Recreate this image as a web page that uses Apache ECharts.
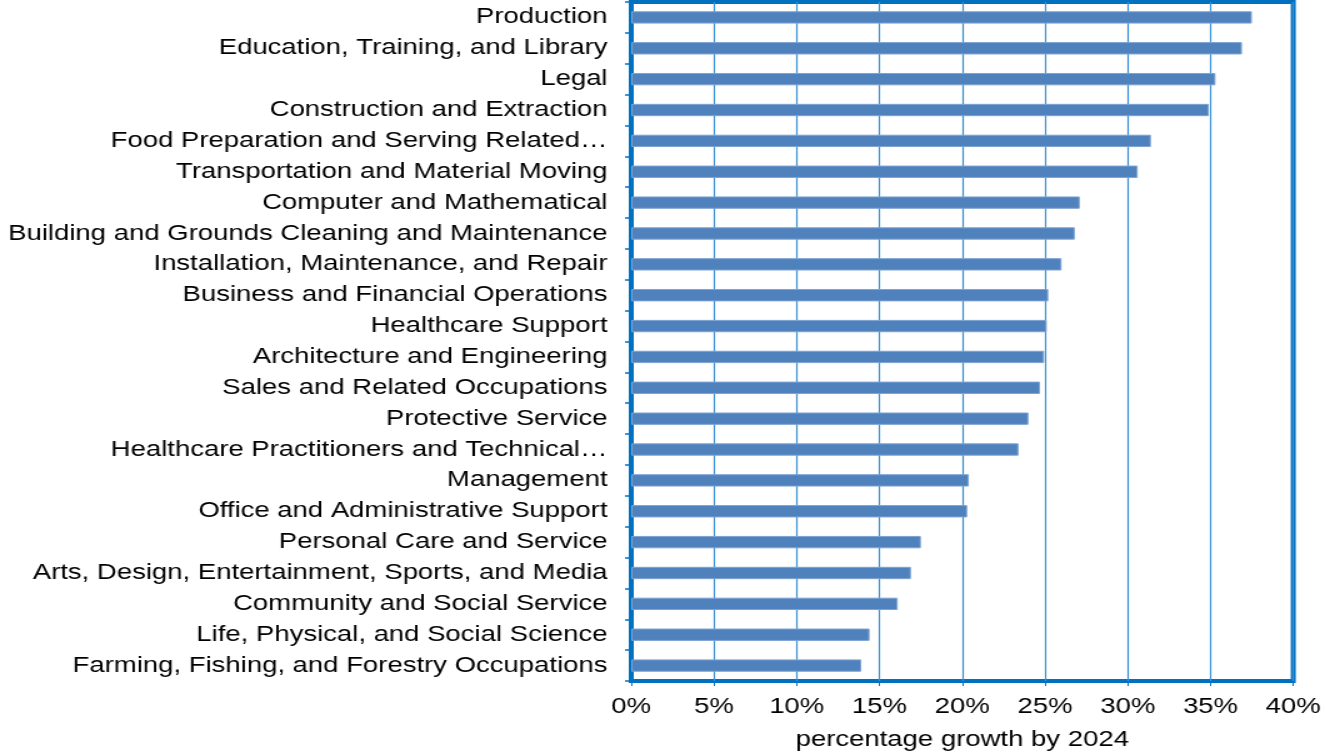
<!DOCTYPE html>
<html>
<head>
<meta charset="utf-8">
<script src="https://cdn.jsdelivr.net/npm/echarts@6/dist/echarts.min.js"></script>
<style>
  html, body { margin: 0; padding: 0; background: #fff; overflow: hidden; width: 1326px; height: 756px; }
  /* the original picture is stretched sideways, so the chart is drawn narrower and widened */
  #chart { width: 1060px; height: 756px; transform: scaleX(1.25); transform-origin: 0 0; }
</style>
</head>
<body>
<div id="chart"></div>
<script>
// occupation groups, top to bottom
const categories = [
  'Production',
  'Education, Training, and Library',
  'Legal',
  'Construction and Extraction',
  'Food Preparation and Serving Related…',
  'Transportation and Material Moving',
  'Computer and Mathematical',
  'Building and Grounds Cleaning and Maintenance',
  'Installation, Maintenance, and Repair',
  'Business and Financial Operations',
  'Healthcare Support',
  'Architecture and Engineering',
  'Sales and Related Occupations',
  'Protective Service',
  'Healthcare Practitioners and Technical…',
  'Management',
  'Office and Administrative Support',
  'Personal Care and Service',
  'Arts, Design, Entertainment, Sports, and Media',
  'Community and Social Service',
  'Life, Physical, and Social Science',
  'Farming, Fishing, and Forestry Occupations'
]

// growth in percent
const growth = [37.5, 36.9, 35.3, 34.9, 31.4, 30.6, 27.1, 26.8, 26.0, 25.2, 25.1,
  24.95, 24.7, 24.0, 23.4, 20.4, 20.3, 17.5, 16.9, 16.1, 14.4, 13.9]

const xTicks = [0, 5, 10, 15, 20, 25, 30, 35, 40]

const blue = '#0070c0'
const font = 'Liberation Sans'
const myChart = echarts.init(document.getElementById('chart'))

myChart.setOption({
  animation: false,
  grid: {
    left: 505, top: 2, width: 529.6, height: 680,
    show: true, borderColor: blue, borderWidth: 4, backgroundColor: 'transparent'
  },
  xAxis: {
    type: 'value',
    min: xTicks[0], max: xTicks[xTicks.length - 1], interval: 5,
    name: 'percentage growth by 2024',
    nameLocation: 'middle',
    nameGap: 48,
    nameTextStyle: { fontFamily: font, fontSize: 22, color: '#000' },
    axisLine: { show: false },
    axisTick: { show: true, length: 5, lineStyle: { color: blue, width: 1 } },
    axisLabel: {
      fontFamily: font, fontSize: 22, color: '#000', margin: 15,
      formatter: v => v + '%'
    },
    splitLine: { show: true, lineStyle: { color: '#3a8fd3', width: 1.2 } }
  },
  yAxis: {
    type: 'category',
    data: categories,
    inverse: true,
    axisLine: { show: true, lineStyle: { color: blue, width: 3.5 } },
    axisTick: { show: true, length: 5, lineStyle: { color: blue, width: 1.5 } },
    axisLabel: {
      fontFamily: font, fontSize: 22, color: '#000', margin: 19
    },
    splitLine: { show: false }
  },
  series: [{
    type: 'bar',
    data: growth,
    barWidth: '40%',
    itemStyle: { color: '#4f81bd', borderColor: '#7ea3d3', borderWidth: 1 }
  }]
})
</script>
</body>
</html>
